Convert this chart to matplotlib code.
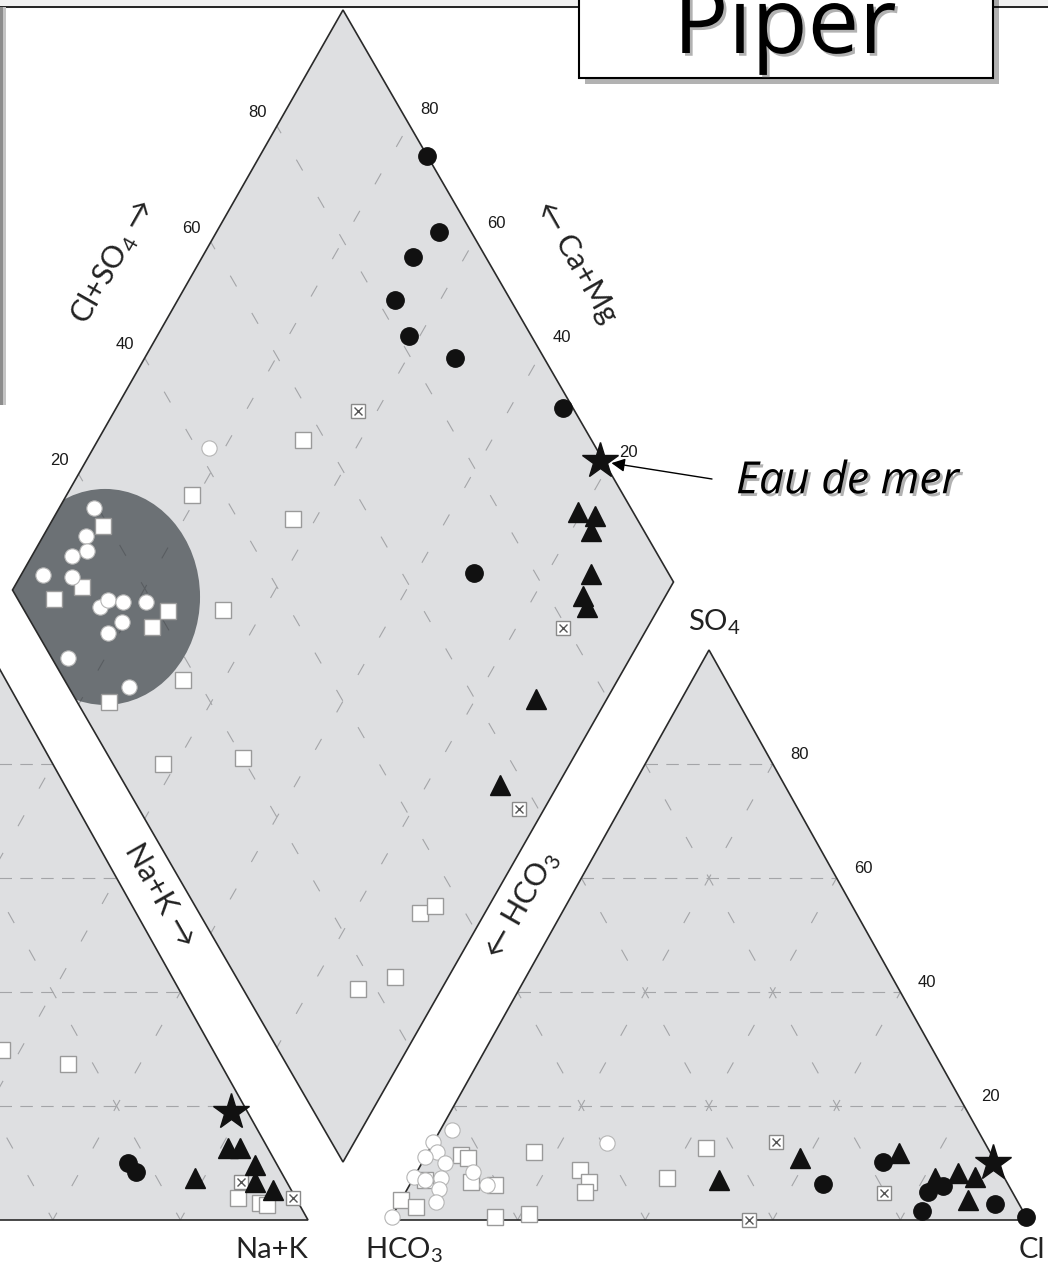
import numpy as np
import matplotlib.pyplot as plt
import matplotlib.patheffects as pe
from matplotlib.patches import Polygon, Ellipse, Rectangle

plt.rcParams['lines.scale_dashes'] = False
plt.rcParams['mathtext.fontset'] = 'custom'
plt.rcParams['mathtext.rm'] = 'Lato'

######################## Données (% en méq/L) ##########################
########################################################################

# Triangle des cations : (Mg, Na+K)
cat_rond_mg = [10.0, 8.5]
cat_rond_nak = [66.8, 68.8]
cat_tri_mg = [12.6, 12.6, 9.7, 7.3, 6.7, 5.3]
cat_tri_nak = [81.2, 83.1, 86.9, 78.6, 88.3, 91.8]
cat_carre_mg = [29.8, 27.4, 3.8, 2.9, 2.6]
cat_carre_nak = [37.1, 48.7, 87.2, 91.0, 92.2]
cat_croix_mg = [6.7, 3.8]
cat_croix_nak = [86.2, 95.8]

# Triangle des anions : (SO4, Cl)
an_rond_so4 = [10.1, 6.4, 5.0, 6.0, 1.5, 2.8, 0.5]
an_rond_cl = [72.2, 64.6, 81.9, 83.7, 82.6, 93.4, 99.5]
an_tri_so4 = [10.8, 7.0, 11.7, 7.3, 8.2, 7.5, 3.5]
an_tri_cl = [58.9, 48.1, 74.0, 81.8, 85.0, 87.9, 88.9]
an_croix_so4 = [13.6, 4.7, 0.0]
an_croix_cl = [53.7, 75.1, 56.2]
an_carre_so4 = [12.6, 11.4, 10.8, 6.7, 6.1, 3.5, 2.3, 0.6, 1.1, 12.0, 8.7, 6.7, 5.0, 7.3, 7.0]
an_carre_cl = [43.3, 5.4, 6.9, 9.4, 13.4, 0.0, 3.0, 16.2, 21.3, 16.5, 25.5, 27.9, 28.1, 39.7, 2.0]
an_blanc_so4 = [15.8, 13.6, 12.0, 11.0, 10.0, 7.5, 7.0, 7.3, 8.5, 5.4, 3.2, 6.1, 0.6, 13.5]
an_blanc_cl = [1.8, 0.0, 1.4, 0.0, 3.6, 0.0, 2.0, 4.3, 8.7, 5.0, 5.6, 12.1, 0.0, 27.2]

# Losange : (Na+K, Cl+SO4)
los_rond_nak = [25.5, 33.8, 32.2, 33.0, 38.3, 47.3, 68.1, 68.9]
los_rond_an = [100.0, 95.1, 89.1, 82.6, 81.6, 86.6, 98.5, 70.8]
los_tri_nak = [79.4, 82.3, 83.0, 86.7, 87.4, 88.9, 89.2, 91.2]
los_tri_an = [91.8, 93.9, 92.0, 88.3, 85.2, 84.8, 69.2, 56.3]
los_croix_nak = [37.1, 87.2, 96.2]
los_croix_an = [67.5, 79.4, 57.1]
los_carre_nak = [31.2, 19.0, 36.5, 33.9, 33.8, 38.1, 49.7, 90.1, 91.8, 87.3, 91.9,
                 8.2, 10.3, 7.2, 25.5, 24.5, 24.5]
los_carre_an = [56.7, 35.2, 48.3, 29.9, 17.9, 7.5, 20.1, 33.2, 36.1, 17.3, 23.9,
                19.2, 10.7, 5.5, 21.6, 17.7, 4.8]
los_blanc_nak = [17.6, 5.3, 6.5, 8.0, 6.1, 3.3, 7.9, 14.8, 15.5, 17.9, 21.4, 19.4, 18.3, 14.3, 26.2]
los_blanc_an = [41.9, 19.4, 15.7, 14.6, 11.8, 5.8, 10.0, 11.7, 13.5, 15.5, 19.0, 13.7, 10.7, 2.4, 9.1]

# Eau de mer
mer_mg, mer_nak = 19.0, 78.4
mer_so4, mer_cl = 10.0, 89.5

# Zone des eaux bicarbonatées calciques (centre en Na+K, Cl+SO4)
zone_nak, zone_an = 14.7, 13.3

graduations = [20, 40, 60, 80]

###################### Géométrie du diagramme ##########################
########################################################################

BASE = 1220.0
HAUT = 570.0
COTE = 638.0
X_CA = -330.0
X_HCO3 = 390.0
L = np.array([12.5, 590.0])
B = np.array([343.0, 1162.0])
T = np.array([343.0, 10.0])

def cation_xy(mg, nak):
  mg = np.asarray(mg, float)
  nak = np.asarray(nak, float)
  return X_CA + (nak + mg/2)/100*COTE, BASE - mg/100*HAUT

def anion_xy(so4, cl):
  so4 = np.asarray(so4, float)
  cl = np.asarray(cl, float)
  return X_HCO3 + (cl + so4/2)/100*COTE, BASE - so4/100*HAUT

def losange_xy(nak, an):
  nak = np.asarray(nak, float)/100
  an = np.asarray(an, float)/100
  x = L[0] + nak*(B[0] - L[0]) + an*(T[0] - L[0])
  y = L[1] + nak*(B[1] - L[1]) + an*(T[1] - L[1])
  return x, y

FOND = '#dedfe1'
BORD = '#2a2a2a'
GRILLE = '#a4a5a8'
TIRETS = (0, (9, 6))
POINTILLES = (3, (9, 22))

fig = plt.figure(figsize=(10.48, 12.72), dpi=100)
ax = fig.add_axes([0, 0, 1, 1])
ax.set_xlim(0, 1048)
ax.set_ylim(1272, 0)
ax.axis('off')

# Bandeau du haut
ax.add_patch(Rectangle((0, 0), 1048, 7, color='#f1f1f1', zorder=0))
ax.plot([0, 1048], [7, 7], color='k', lw=1.2, zorder=1)
ax.add_patch(Rectangle((0, 7), 3, 398, color='#8c8c8c', lw=0, zorder=1))
ax.add_patch(Rectangle((3, 7), 3, 398, color='#c4c4c4', lw=0, zorder=1))

# Fonds des trois panneaux
sommets_cat = np.column_stack(cation_xy([0, 0, 100], [0, 100, 0]))
sommets_an = np.column_stack(anion_xy([0, 0, 100], [0, 100, 0]))
sommets_los = np.column_stack(losange_xy([0, 100, 100, 0], [0, 0, 100, 100]))
fond_los = Polygon(sommets_los, closed=True, fc=FOND, ec='none', zorder=1)
for s in (sommets_cat, sommets_an):
  ax.add_patch(Polygon(s, closed=True, fc=FOND, ec='none', zorder=1))
ax.add_patch(fond_los)

# Grilles des triangles
def grille_triangle(fxy):
  for k in graduations:
    x, y = fxy([k, k], [0, 100 - k])
    ax.plot(x, y, color=GRILLE, lw=0.8, ls=TIRETS, zorder=2)
    x, y = fxy([0, 100 - k], [k, k])
    ax.plot(x, y, color=GRILLE, lw=0.8, ls=POINTILLES, zorder=2)
    x, y = fxy([0, 100 - k], [100 - k, 0])
    ax.plot(x, y, color=GRILLE, lw=0.8, ls=POINTILLES, zorder=2)

grille_triangle(cation_xy)
grille_triangle(anion_xy)

# Zone foncée (eaux bicarbonatées calciques)
cx, cy = losange_xy(zone_nak, zone_an)
zone = Ellipse((cx, cy), 190, 216, fc='#6c7175', ec='none', zorder=3)
ax.add_patch(zone)
zone.set_clip_path(fond_los)

# Grille du losange, plus sombre sur la zone
for k in graduations:
  for nak, an in (([k, k], [0, 100]), ([0, 100], [k, k])):
    x, y = losange_xy(nak, an)
    ax.plot(x, y, color=GRILLE, lw=0.8, ls=POINTILLES, zorder=2)
    trait, = ax.plot(x, y, color='#595d61', lw=0.8, ls=POINTILLES, zorder=3.5)
    trait.set_clip_path(zone)

# Contours
for s in (sommets_cat, sommets_an, sommets_los):
  ax.add_patch(Polygon(s, closed=True, fill=False, ec=BORD, lw=1.2, zorder=4))

# Points
ROND = dict(marker='o', ms=12.5, mfc='#111111', mec='#111111', ls='none', zorder=6)
TRI = dict(marker='^', ms=14, mfc='#111111', mec='#111111', ls='none', zorder=6)
CARRE = dict(marker='s', ms=11, mfc='white', mec='#9a9a9a', mew=1.0, ls='none', zorder=5)
BLANC = dict(marker='o', ms=11, mfc='white', mec='#b5b5b5', mew=0.8, ls='none', zorder=5)
CROIX_F = dict(marker='s', ms=9.5, mfc='white', mec='#8a8a8a', mew=1.0, ls='none', zorder=5)
CROIX_X = dict(marker='x', ms=6, mec='#555555', mew=1.0, ls='none', zorder=5)
ETOILE = dict(marker='*', ms=27, mfc='#111111', mec='#111111', ls='none', zorder=7)

def points(fxy, a, b, style):
  x, y = fxy(a, b)
  ax.plot(x, y, **style)

def croix(fxy, a, b):
  points(fxy, a, b, CROIX_F)
  points(fxy, a, b, CROIX_X)

points(cation_xy, cat_carre_mg, cat_carre_nak, CARRE)
croix(cation_xy, cat_croix_mg, cat_croix_nak)
points(cation_xy, cat_rond_mg, cat_rond_nak, ROND)
points(cation_xy, cat_tri_mg, cat_tri_nak, TRI)
points(cation_xy, [mer_mg], [mer_nak], ETOILE)

points(anion_xy, an_carre_so4, an_carre_cl, CARRE)
points(anion_xy, an_blanc_so4, an_blanc_cl, BLANC)
croix(anion_xy, an_croix_so4, an_croix_cl)
points(anion_xy, an_rond_so4, an_rond_cl, ROND)
points(anion_xy, an_tri_so4, an_tri_cl, TRI)
points(anion_xy, [mer_so4], [mer_cl], ETOILE)

points(losange_xy, los_carre_nak, los_carre_an, CARRE)
points(losange_xy, los_blanc_nak, los_blanc_an, BLANC)
croix(losange_xy, los_croix_nak, los_croix_an)
points(losange_xy, los_rond_nak, los_rond_an, ROND)
points(losange_xy, los_tri_nak, los_tri_an, TRI)
mer_x, mer_y = losange_xy(mer_nak, mer_so4 + mer_cl)
ax.plot([mer_x], [mer_y], **ETOILE)

# Graduations
CHIFFRES = dict(fontsize=12, family=['Liberation Sans', 'DejaVu Sans'], color='#1a1a1a',
                ha='center', va='center', textcoords='offset points', zorder=8)
for k in graduations:
  ax.annotate(str(k), losange_xy(0, k), xytext=(-14, 10), **CHIFFRES)
  ax.annotate(str(k), losange_xy(100 - k, 100), xytext=(15, 11), **CHIFFRES)
  ax.annotate(str(k), anion_xy(k, 100 - k), xytext=(19, 7), **CHIFFRES)

# Titres des axes
POLICE = ['Lato', 'DejaVu Sans']
AXE = dict(fontsize=22, family=POLICE, color='#222222', ha='center', va='center',
           rotation_mode='anchor', zorder=8)
ax.text(113, 262, 'Cl+SO$_4$ \u2192', rotation=60.3, **AXE)
ax.text(577, 262, '\u2190 Ca+Mg', rotation=-60.3, **AXE)
ax.text(160, 895, 'Na+K \u2192', rotation=-60.3, **AXE)
ax.text(522, 905, '\u2190 HCO$_3$', rotation=60.3, **AXE)
BAS = dict(AXE, fontsize=21)
ax.text(714, 622, 'SO$_4$', **BAS)
ax.text(404, 1250, 'HCO$_3$', **BAS)
ax.text(272, 1250, 'Na+K', **BAS)
ax.text(1019, 1250, 'Cl', fontsize=21, family=POLICE, color='#222222',
        ha='left', va='center', zorder=8)

# Eau de mer
TITRE = ['Open Sans', 'DejaVu Sans']
ombre = [pe.SimplePatchShadow(offset=(2, -2), shadow_rgbFace='#555555', alpha=0.45), pe.Normal()]
ax.annotate('', xy=(mer_x, mer_y), xytext=(712, 479),
            arrowprops=dict(arrowstyle='-|>', color='k', lw=1.0, mutation_scale=20,
                            shrinkA=0, shrinkB=8), zorder=8)
ax.text(736, 482, 'Eau de mer', fontsize=32, style='italic', family=TITRE,
        ha='left', va='center', path_effects=ombre, zorder=8)

# Cartouche du titre
cadre = Rectangle((579, -30), 414, 108, fc='white', ec='k', lw=1.5, zorder=9,
                  path_effects=[pe.SimplePatchShadow(offset=(4, -4), shadow_rgbFace='k',
                                                     alpha=0.3), pe.Normal()])
ax.add_patch(cadre)
ax.text(785, 53, 'Piper', fontsize=66, family=TITRE, ha='center', va='baseline',
        path_effects=ombre, zorder=10)

fig.savefig('out.png', dpi=100)
